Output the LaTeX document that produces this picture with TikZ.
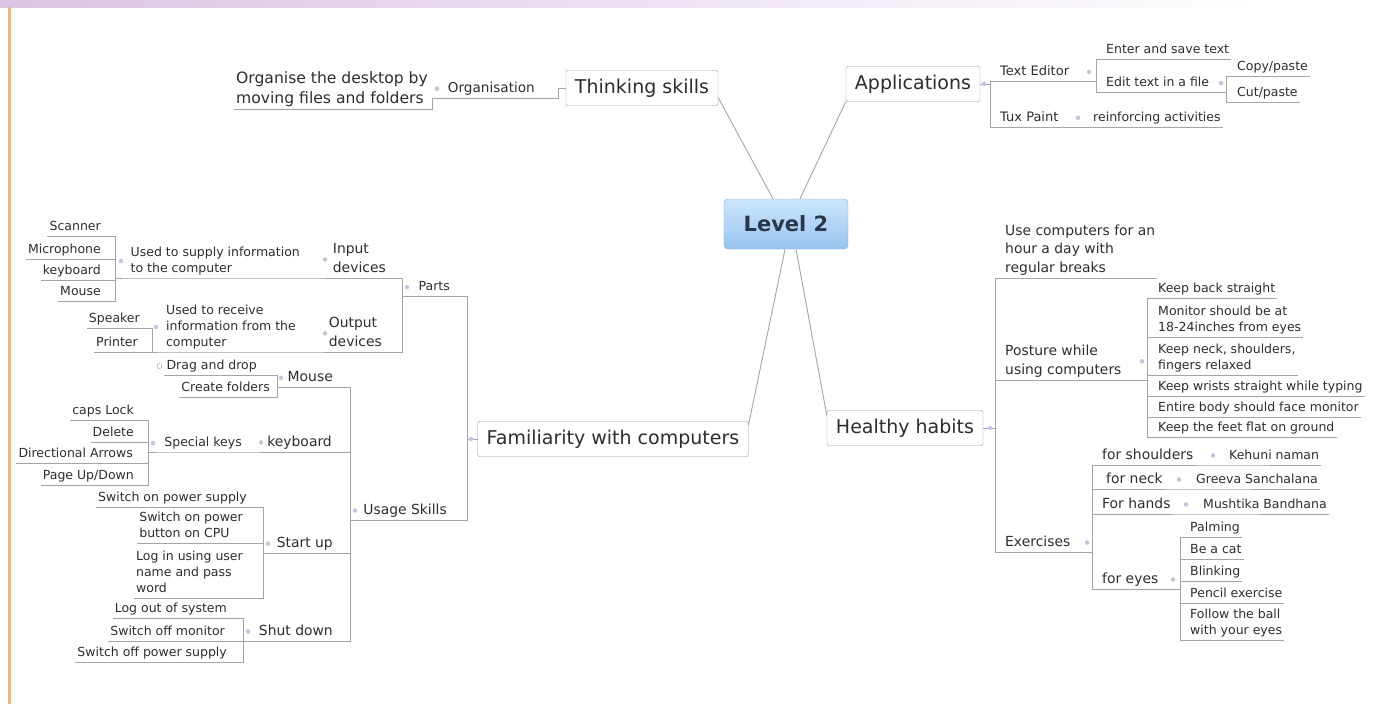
\documentclass[tikz,border=0pt]{standalone}
\usepackage{fontspec}
\setmainfont{DejaVu Sans}
\definecolor{linegray}{RGB}{165,165,165}
\definecolor{boxgray}{RGB}{150,150,150}
\definecolor{textgray}{RGB}{45,45,45}
\definecolor{knotblue}{RGB}{196,196,226}
\definecolor{barlilac}{RGB}{218,196,228}
\definecolor{edgeorange}{RGB}{230,182,136}
\definecolor{skytop}{RGB}{206,230,252}
\definecolor{skybot}{RGB}{150,196,240}
\definecolor{skyline}{RGB}{130,170,210}
\definecolor{titleink}{RGB}{40,55,75}

\begin{document}
\begin{tikzpicture}[x=1pt,y=-1pt,
  line/.style={draw=linegray,line width=0.9pt},
  leaf/.style={inner xsep=2pt,inner ysep=2.5pt,text depth=3pt,text=textgray,align=left,font=\fontsize{12.5}{16}\selectfont},
  mid/.style={leaf,font=\fontsize{13.9}{18.5}\selectfont},
  rs/.style={anchor=south west},
  ls/.style={anchor=south east},
  branch/.style={draw=boxgray,rounded corners=2pt,fill=white,text=textgray,font=\fontsize{19}{22}\selectfont,minimum height=35pt,inner xsep=9pt},
  knot/.style={circle,fill=knotblue,inner sep=0pt,minimum size=4.5pt}]
  \useasboundingbox (0,0) rectangle (1387,704);
  \shade[left color=barlilac,right color=white] (0,0) rectangle (1260,7);
  \fill[edgeorange] (8,7) rectangle (11,704);

  % centre
  \node[draw=skyline,rounded corners=4pt,top color=skytop,bottom color=skybot,minimum width=124pt,minimum height=50pt,text=titleink,font=\bfseries\fontsize{21}{24}\selectfont] (lvl) at (786,224) {Level 2};

  % branches
  \node[branch] (ts) at (642,88) {Thinking skills};
  \node[branch] (ap) at (913,84) {Applications};
  \node[branch] (fam) at (613,439) {Familiarity with computers};
  \node[branch] (hh) at (905,428) {Healthy habits};
  \draw[line] ([xshift=-13pt]lvl.north) -- ([yshift=8pt]ts.south east);
  \draw[line] ([xshift=14pt]lvl.north) -- (ap.south west);
  \draw[line] ([xshift=-1pt]lvl.south) -- ([yshift=-4pt]fam.north east);
  \draw[line] ([xshift=10pt]lvl.south) -- ([yshift=-5pt]hh.north west);

  % Thinking skills
  \coordinate (tsF) at (558,88);
  \node[mid,ls,font=\fontsize{13.6}{17}\selectfont] (org) at (537,98) {Organisation};
  \coordinate (orgF) at (432,98);
  \node[mid,ls,font=\fontsize{15.6}{19.5}\selectfont] (od) at (430,109) {Organise the desktop by\\moving files and folders};
  \draw[line] (ts.west) -- (tsF) |- (org.south west);
  \draw[line] (org.south west) -- (orgF) |- (od.south west);
  \node[knot] (orgK) at ([xshift=5pt]orgF |- org.center) {};

  % Applications
  \coordinate (apF) at (990,84);
  \node[leaf,rs,font=\fontsize{13}{16}\selectfont] (te) at (998,81) {Text Editor};
  \node[leaf,rs,font=\fontsize{13}{16}\selectfont] (tp) at (998,127) {Tux Paint};
  \coordinate (teF) at (1096,81);
  \coordinate (tpF) at (1085,127);
  \node[leaf,rs] (es) at (1104,59) {Enter and save text};
  \node[leaf,rs] (ed) at (1104,92) {Edit text in a file};
  \coordinate (edF) at (1226,92);
  \node[leaf,rs] (cp) at (1235,76) {Copy/paste};
  \node[leaf,rs] (cu) at (1235,102) {Cut/paste};
  \node[leaf,rs] (ra) at (1091,127) {reinforcing activities};
  \draw[line] (ap.east) -- (apF);
  \foreach \c in {te,tp} \draw[line] (apF) |- (\c.south east);
  \draw[line] (te.south east) -- (teF);
  \draw[line] (tp.south east) -- (tpF);
  \draw[line] (ed.south east) -- (edF);
  \foreach \c in {es,ed} \draw[line] (teF) |- (\c.south east);
  \foreach \c in {cp,cu} \draw[line] (edF) |- (\c.south east);
  \draw[line] (tpF) -- (ra.south east);
  \node[knot] (apK) at ([xshift=-6pt]apF) {};
  \node[knot] (teK) at ([xshift=-7pt]teF |- te.center) {};
  \node[knot] (edK) at ([xshift=-5pt]edF |- ed.center) {};
  \node[knot] (tpK) at ([xshift=-7pt]tpF |- tp.center) {};

  % Healthy habits
  \coordinate (hhF) at (995,428);
  \node[mid,rs] (uc) at (1003,278) {Use computers for an\\hour a day with\\regular breaks};
  \node[mid,rs] (pw) at (1003,380) {Posture while\\using computers};
  \node[mid,rs] (ex) at (1003,552) {Exercises};
  \coordinate (pwF) at (1147,380);
  \node[leaf,rs] (kb) at (1156,298) {Keep back straight};
  \node[leaf,rs] (ms) at (1156,337) {Monitor should be at\\18-24inches from eyes};
  \node[leaf,rs] (kn) at (1156,375) {Keep neck, shoulders,\\fingers relaxed};
  \node[leaf,rs] (kw) at (1156,396) {Keep wrists straight while typing};
  \node[leaf,rs] (eb) at (1156,417) {Entire body should face monitor};
  \node[leaf,rs] (kf) at (1156,437) {Keep the feet flat on ground};
  \coordinate (exF) at (1092,552);
  \node[mid,rs] (fs) at (1100,465) {for shoulders};
  \node[mid,rs] (fn) at (1104,489) {for neck};
  \node[mid,rs] (fh) at (1100,514) {For hands};
  \node[mid,rs] (fe) at (1100,589) {for eyes};
  \coordinate (fsF) at (1220,465);
  \coordinate (fnF) at (1186,489);
  \coordinate (fhF) at (1193,514);
  \coordinate (feF) at (1180,589);
  \node[leaf,rs] (kh) at (1227,465) {Kehuni naman};
  \node[leaf,rs] (gs) at (1194,489) {Greeva Sanchalana};
  \node[leaf,rs] (mb) at (1201,514) {Mushtika Bandhana};
  \node[leaf,rs] (pa) at (1188,537) {Palming};
  \node[leaf,rs] (bc) at (1188,559) {Be a cat};
  \node[leaf,rs] (bl) at (1188,581) {Blinking};
  \node[leaf,rs] (pe) at (1188,603) {Pencil exercise};
  \node[leaf,rs] (fb) at (1188,640) {Follow the ball\\with your eyes};
  \draw[line] (hh.east) -- (hhF);
  \foreach \c in {uc,pw,ex} \draw[line] (hhF) |- (\c.south east);
  \draw[line] (pw.south east) -- (pwF);
  \foreach \c in {kb,ms,kn,kw,eb,kf} \draw[line] (pwF) |- (\c.south east);
  \draw[line] (ex.south east) -- (exF);
  \foreach \c in {fs,fn,fh,fe} \draw[line] (exF) |- (\c.south east);
  \foreach \p/\c in {fs/kh,fn/gs,fh/mb} {
    \draw[line] (\p.south east) -- (\p F) -- (\c.south east);
    \node[knot] (\p K) at ([xshift=-7pt]\p F |- \p.center) {};
  }
  \draw[line] (fe.south east) -- (feF);
  \foreach \c in {pa,bc,bl,pe,fb} \draw[line] (feF) |- (\c.south east);
  \node[knot] (hhK) at ([xshift=-5pt]hhF) {};
  \node[knot] (pwK) at ([xshift=-5pt]pwF |- pw.center) {};
  \node[knot] (exK) at ([xshift=-5pt]exF |- ex.center) {};
  \node[knot] (feK) at ([xshift=-7pt]feF |- fe.center) {};

  % Familiarity with computers
  \coordinate (famF) at (467,439);
  \node[leaf,ls] (parts) at (452,296) {Parts};
  \node[mid,ls] (usk) at (449,520) {Usage Skills};
  \coordinate (partsF) at (402,296);
  \node[mid,ls] (inp) at (388,278) {Input\\devices};
  \node[mid,ls] (outp) at (384,352) {Output\\devices};
  \coordinate (inpF) at (320,278);
  \coordinate (outF) at (320,352);
  \node[leaf,ls] (us) at (302,278) {Used to supply information\\to the computer};
  \coordinate (usF) at (115,278);
  \node[leaf,ls] (sc) at (103,236) {Scanner};
  \node[leaf,ls] (mi) at (103,259) {Microphone};
  \node[leaf,ls] (kbd) at (103,280) {keyboard};
  \node[leaf,ls] (mo) at (103,301) {Mouse};
  \node[leaf,ls] (ur) at (298,352) {Used to receive\\information from the\\computer};
  \coordinate (urF) at (152,352);
  \node[leaf,ls] (sp) at (142,328) {Speaker};
  \node[leaf,ls] (pr) at (140,352) {Printer};
  \draw[line] (fam.west) -- (famF);
  \foreach \c in {parts,usk} \draw[line] (famF) |- (\c.south west);
  \draw[line] (parts.south west) -- (partsF);
  \foreach \c in {inp,outp} \draw[line] (partsF) |- (\c.south west);
  \draw[line] (inp.south west) -- (inpF) -- (us.south west) -- (usF);
  \foreach \c in {sc,mi,kbd,mo} \draw[line] (usF) |- (\c.south west);
  \draw[line] (outp.south west) -- (outF) -- (ur.south west) -- (urF);
  \foreach \c in {sp,pr} \draw[line] (urF) |- (\c.south west);
  \node[knot] (famK) at ([xshift=4pt]famF) {};
  \node[knot] (partsK) at ([xshift=5pt]partsF |- parts.center) {};
  \node[knot] (inpK) at ([xshift=5pt]inpF |- inp.center) {};
  \node[knot] (outK) at ([xshift=5pt]outF |- outp.center) {};
  \node[knot] (usK) at ([xshift=6pt]usF |- us.center) {};
  \node[knot] (urK) at ([xshift=4pt]urF |- ur.center) {};

  % Usage Skills
  \coordinate (uskF) at (350,520);
  \node[mid,ls] (mo2) at (335,387) {Mouse};
  \node[mid,ls] (kbn) at (334,452) {keyboard};
  \node[mid,ls] (st) at (335,553) {Start up};
  \node[mid,ls] (sd) at (335,641) {Shut down};
  \coordinate (mo2F) at (277,387);
  \coordinate (kbnF) at (257,452);
  \coordinate (stF) at (263,553);
  \coordinate (sdF) at (243,641);
  \node[leaf,ls] (dd) at (259,375) {Drag and drop};
  \node[leaf,ls] (cf) at (272,397) {Create folders};
  \node[leaf,ls] (skk) at (244,452) {Special keys};
  \coordinate (skF) at (148,452);
  \node[leaf,ls] (cl) at (136,420) {caps Lock};
  \node[leaf,ls] (de) at (136,442) {Delete};
  \node[leaf,ls] (da) at (135,463) {Directional Arrows};
  \node[leaf,ls] (pu) at (136,485) {Page Up/Down};
  \node[leaf,ls] (sop) at (249,507) {Switch on power supply};
  \node[leaf,ls] (sob) at (245,543) {Switch on power\\button on CPU};
  \node[leaf,ls] (lg) at (245,598) {Log in using user\\name and pass\\word};
  \node[leaf,ls] (lo) at (229,618) {Log out of system};
  \node[leaf,ls] (sm) at (227,641) {Switch off monitor};
  \node[leaf,ls] (sps) at (229,662) {Switch off power supply};
  \draw[line] (usk.south west) -- (uskF);
  \foreach \c in {mo2,kbn,st,sd} \draw[line] (uskF) |- (\c.south west);
  \draw[line] (mo2.south west) -- (mo2F);
  \foreach \c in {dd,cf} \draw[line] (mo2F) |- (\c.south west);
  \draw[line] (kbn.south west) -- (kbnF) -- (skk.south west) -- (skF);
  \foreach \c in {cl,de,da,pu} \draw[line] (skF) |- (\c.south west);
  \draw[line] (st.south west) -- (stF);
  \foreach \c in {sop,sob,lg} \draw[line] (stF) |- (\c.south west);
  \draw[line] (sd.south west) -- (sdF);
  \foreach \c in {lo,sm,sps} \draw[line] (sdF) |- (\c.south west);
  \node[knot] (uskK) at ([xshift=5pt]uskF |- usk.center) {};
  \node[knot] (mo2K) at ([xshift=4pt]mo2F |- mo2.center) {};
  \node[knot] (kbnK) at ([xshift=4pt]kbnF |- kbn.center) {};
  \node[knot] (skK) at ([xshift=5pt]skF |- skk.center) {};
  \node[knot] (stK) at ([xshift=5pt]stF |- st.center) {};
  \node[knot] (sdK) at ([xshift=5pt]sdF |- sd.center) {};
  \node[circle,draw=boxgray,inner sep=0pt,minimum size=5pt] (ddK) at ([xshift=-5pt]dd.west) {};
\end{tikzpicture}
\end{document}
